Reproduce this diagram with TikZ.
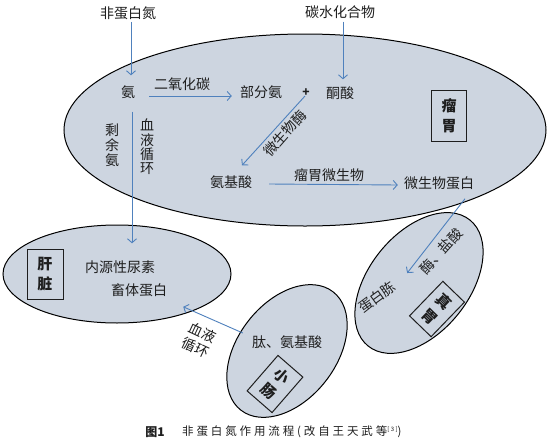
\documentclass[tikz,border=0pt]{standalone}
\usepackage{fontspec}
\setmainfont{Noto Sans CJK SC}
\newfontfamily\capfont[LetterSpace=25]{Noto Sans CJK SC}
\usetikzlibrary{arrows.meta,shapes.geometric}
\definecolor{organfill}{RGB}{205,213,224}
\definecolor{flowblue}{RGB}{79,129,189}
\definecolor{ink}{RGB}{30,30,30}
\begin{document}
\begin{tikzpicture}[x=1pt,y=-1pt,
  organ/.style={ellipse, draw=black, line width=1pt, fill=organfill, inner sep=0pt},
  lbl/.style={font=\fontsize{14}{15}\selectfont, text=ink, inner sep=0pt, align=center},
  tagbox/.style={draw=ink, line width=1pt, font=\fontsize{15}{20}\selectfont\bfseries, text=ink, align=center, inner sep=0pt},
  flow/.style={draw=flowblue, line width=0.9pt, -{Straight Barb[length=4pt,width=9pt]}}]
\fill[white] (0,0) rectangle (550,445);
\useasboundingbox (0,0) rectangle (550,445);

% organs
\node[organ, minimum width=482pt, minimum height=192pt] (rumen) at (305,130) {};
\node[organ, minimum width=228pt, minimum height=98pt] (liver) at (117,274) {};
\node[organ, rotate=52, minimum width=150pt, minimum height=98pt] (si) at (287,351) {};
\node[organ, rotate=51, minimum width=162pt, minimum height=100pt] (ab) at (419,283) {};

% organ tags
\node[tagbox, minimum width=35pt, minimum height=51pt] (rumenTag) at (449,116) {瘤\\胃};
\node[tagbox, minimum width=36pt, minimum height=50pt] (liverTag) at (45,274) {肝\\脏};
\node[tagbox, rotate=-41, minimum width=33pt, minimum height=47pt] (siTag) at (275,384) {小\\肠};
\node[tagbox, rotate=-44, minimum width=30pt, minimum height=48pt] (abTag) at (437,309) {真\\胃};

% labels
\node[lbl] (npn) at (128,13) {非蛋白氮};
\node[lbl] (carb) at (340,12) {碳水化合物};
\node[lbl] (nh3) at (128,92) {氨};
\node[lbl] (co2) at (182,84) {二氧化碳};
\node[lbl] (part) at (261,92) {部分氨};
\node[lbl, font=\fontsize{12}{12}\selectfont\bfseries] (plus) at (306,93) {+};
\node[lbl] (keto) at (340,93) {酮酸};
\node[lbl] (aa) at (231,182) {氨基酸};
\node[lbl] (mcplab) at (329,175) {瘤胃微生物};
\node[lbl] (mcp) at (439,183) {微生物蛋白};
\node[lbl, font=\fontsize{14}{15}\selectfont] (rem) at (112,145) {剩\\余\\氨};
\node[lbl, font=\fontsize{14}{14.3}\selectfont] (circ1) at (147,147) {血\\液\\循\\环};
\node[lbl, rotate=48.5] (enz) at (285,133) {微生物酶};
\node[lbl] (urea) at (120,267) {内源性尿素};
\node[lbl] (body) at (139,290) {畜体蛋白};
\node[lbl, font=\fontsize{14}{16.5}\selectfont, rotate=-25] (circ2) at (199,340) {血液\\循环};
\node[lbl] (pep) at (287,342) {肽、氨基酸};
\node[lbl, rotate=36] (ptn) at (377,297) {蛋白胨};
\node[lbl, rotate=48] (hcl) at (441,251) {酶、盐酸};

% connectors
\draw[flow] ([xshift=3pt,yshift=-2pt]npn.south) -- ([xshift=3pt,yshift=10pt]nh3.north);
\draw[flow] ([xshift=3pt,yshift=-3pt]carb.south) -- ([xshift=3pt,yshift=7pt]keto.north);
\draw[flow] ([shift={(14pt,-4pt)}]nh3.east) -- ([shift={(-8pt,-4pt)}]part.west);
\draw[flow] ([shift={(-1pt,-3pt)}]plus.center) -- ([shift={(11pt,10pt)}]aa.north);
\draw[flow] ([xshift=17pt,yshift=-2pt]aa.east) -- ([xshift=-6pt,yshift=-2pt]mcp.west);
\draw[flow] ([shift={(4pt,-13pt)}]nh3.south) -- ([shift={(12pt,17pt)}]urea.north);
\draw[flow] ([shift={(26pt,-9pt)}]mcp.south) -- ([shift={(17pt,6pt)}]ptn.north east);
\draw[flow] ([shift={(-9pt,9pt)}]pep.west) -- ([shift={(16pt,-10pt)}]body.south east);

% caption
\node[font=\fontsize{12}{12}\selectfont\bfseries, text=ink, inner sep=0pt] (figno) at (155,432) {图1};
\node[font=\capfont\fontsize{11.5}{12}\selectfont, text=ink, inner sep=0pt, anchor=west] (cap) at (182,432) {非蛋白氮作用流程(改自王天武等\raisebox{4pt}{\fontsize{6}{6}\selectfont[3]})};
\end{tikzpicture}
\end{document}
